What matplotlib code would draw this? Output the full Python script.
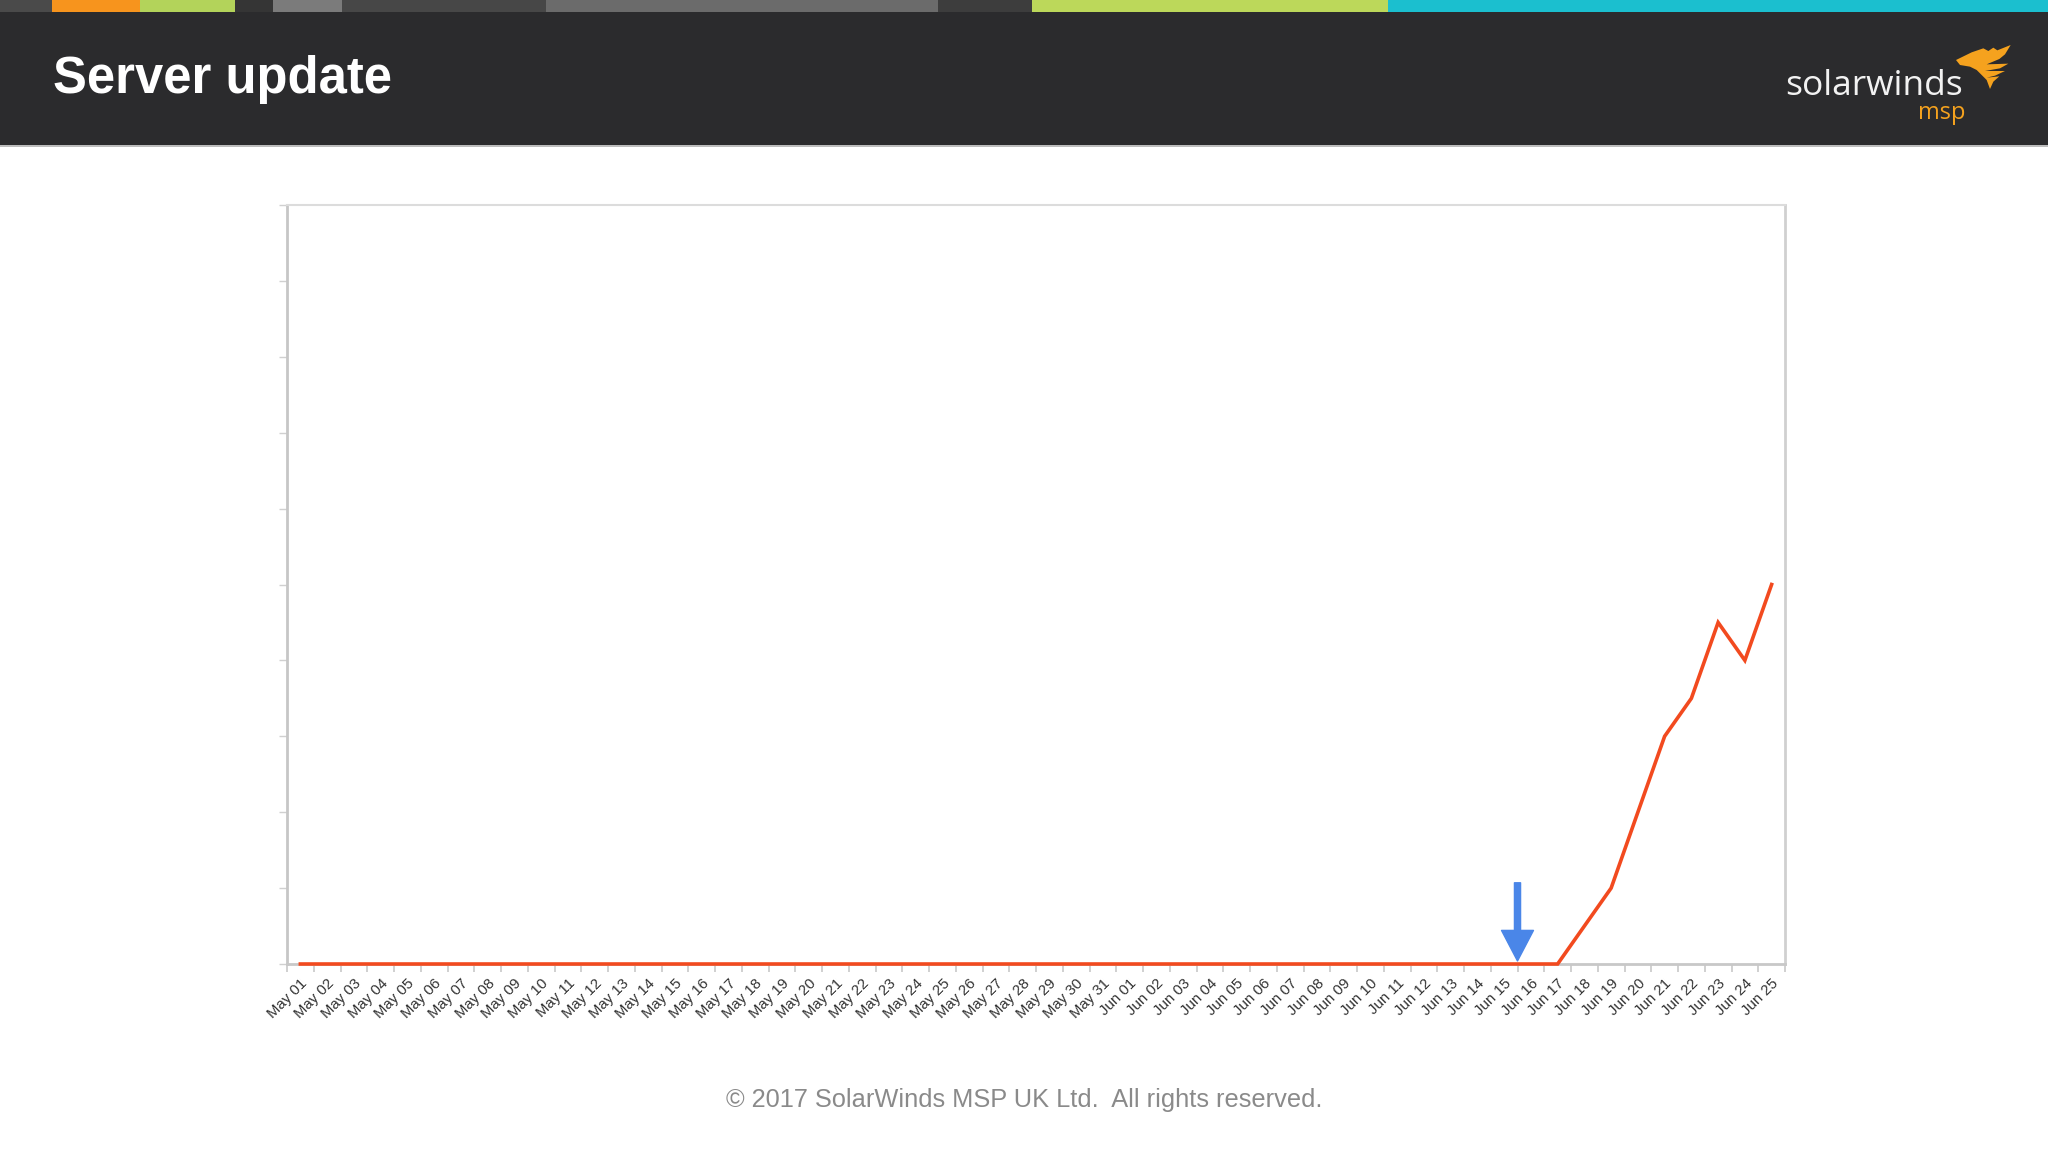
"""
Server update chart - daily count, May 01 to Jun 25
"""

import numpy as np
import matplotlib.pyplot as plt
from matplotlib.patches import Rectangle, Polygon
import pandas as pd

# data
dates = pd.date_range('2017-05-01', '2017-06-25', freq='D')
date_labels = [d.strftime('%b %d') for d in dates]
counts = [0, 0, 0, 0, 0, 0, 0, 0, 0, 0,
          0, 0, 0, 0, 0, 0, 0, 0, 0, 0,
          0, 0, 0, 0, 0, 0, 0, 0, 0, 0,
          0, 0, 0, 0, 0, 0, 0, 0, 0, 0,
          0, 0, 0, 0, 0, 0, 0, 0,
          5, 10, 20, 30, 35, 45, 40, 50]
y_max = 100
y_step = 10
update_day = 'Jun 16'

# header strip colours (left edge px, colour)
strip_edges = [0, 52, 140, 235, 273, 342, 546, 938, 1032, 1388, 2048]
strip_colors = ['#4a4a4a', '#f7941d', '#b3d35a', '#353535', '#7b7b7b',
                '#474747', '#6b6b6b', '#3d3d3d', '#bcd85a', '#1bbfcf']

W, H = 2048, 1152
fig = plt.figure(figsize=(W / 100, H / 100), dpi=100)
fig.patch.set_facecolor('white')

def fx(px):
	return px / W

def fy(py):
	return 1 - py / H

# header band
fig.patches.append(Rectangle((0, fy(146)), 1, 146 / H - 12 / H, transform=fig.transFigure,
                             facecolor='#2b2b2d', edgecolor='none', zorder=0))
fig.patches.append(Rectangle((0, fy(147)), 1, 1.5 / H, transform=fig.transFigure,
                             facecolor='#bdbdbd', edgecolor='none', zorder=0))
for ix in range(len(strip_colors)):
	x0 = strip_edges[ix]
	x1 = strip_edges[ix + 1]
	fig.patches.append(Rectangle((fx(x0), fy(12)), (x1 - x0) / W, 12 / H,
	                             transform=fig.transFigure, facecolor=strip_colors[ix],
	                             edgecolor='none', zorder=1))

fig.text(fx(53), fy(93), 'Server update', color='white', fontsize=36.5, fontweight='bold',
         family='Liberation Sans', ha='left', va='baseline')

# logo
fig.text(fx(1785), fy(95), 'solarwinds', color='#f2f2f2', fontsize=25.5,
         family='Open Sans', ha='left', va='baseline')
fig.text(fx(1965), fy(119), 'msp', color='#f5a21e', fontsize=17,
         family='Open Sans', ha='right', va='baseline')
flame = [(48, 75), (95, 52), (130, 40), (145, 48), (160, 38), (172, 46), (212, 30),
         (195, 58), (178, 72), (140, 88), (205, 86), (180, 100), (135, 108), (195, 108),
         (165, 122), (140, 128), (178, 124), (160, 140), (150, 162), (140, 135),
         (110, 105), (90, 95), (60, 90)]
flame_fig = [(fx(1940 + zx / 3), fy(35 + zy / 3)) for zx, zy in flame]
fig.patches.append(Polygon(flame_fig, closed=True, transform=fig.transFigure,
                           facecolor='#f5a21e', edgecolor='none', zorder=2))

# footer
fig.text(0.5, fy(1100), '\u00a9 2017 SolarWinds MSP UK Ltd.  All rights reserved.',
         color='#8a8a8a', fontsize=18.3, family='Liberation Sans', ha='center', va='center')

# chart
ax = fig.add_axes([fx(287), fy(964), fx(1785) - fx(287), (964 - 205) / H])
x = np.arange(len(counts))
ax.plot(x, counts, color='#f24a1f', linewidth=2.6, zorder=5, clip_on=False,
        solid_joinstyle='miter')

ax.set_xlim(-0.5, len(counts) - 0.5)
ax.set_ylim(0, y_max)

ax.set_xticks(x)
ax.set_xticklabels(date_labels, rotation=45, ha='right', va='top', rotation_mode='anchor',
                   fontsize=10.8, color='#333333', family='Liberation Sans')
ax.tick_params(axis='x', which='major', length=0, pad=9)
ax.set_xticks(np.arange(len(counts) + 1) - 0.5, minor=True)
ax.tick_params(axis='x', which='minor', length=6, width=1.2, color='#c8c8c8')

ax.set_yticks(np.arange(0, y_max + 1, y_step))
ax.set_yticklabels([])
ax.tick_params(axis='y', length=6, width=1, color='#d0d0d0')

ax.spines['top'].set_color('#dcdcdc')
ax.spines['top'].set_linewidth(1.5)
ax.spines['left'].set_color('#c6c6c6')
ax.spines['left'].set_linewidth(2)
ax.spines['right'].set_color('#d0d0d0')
ax.spines['right'].set_linewidth(2)
ax.spines['bottom'].set_color('#c8c8c8')
ax.spines['bottom'].set_linewidth(2)

# update marker arrow
arrow_x = date_labels.index(update_day) - 0.5
ax.annotate('', xy=(arrow_x, 0.4), xytext=(arrow_x, 10.7),
            arrowprops=dict(arrowstyle='simple,head_length=1.1,head_width=1.15,tail_width=0.22',
                            mutation_scale=20, color='#4a86e8', shrinkA=0, shrinkB=0),
            zorder=6)

fig.savefig('out.png', dpi=100)
